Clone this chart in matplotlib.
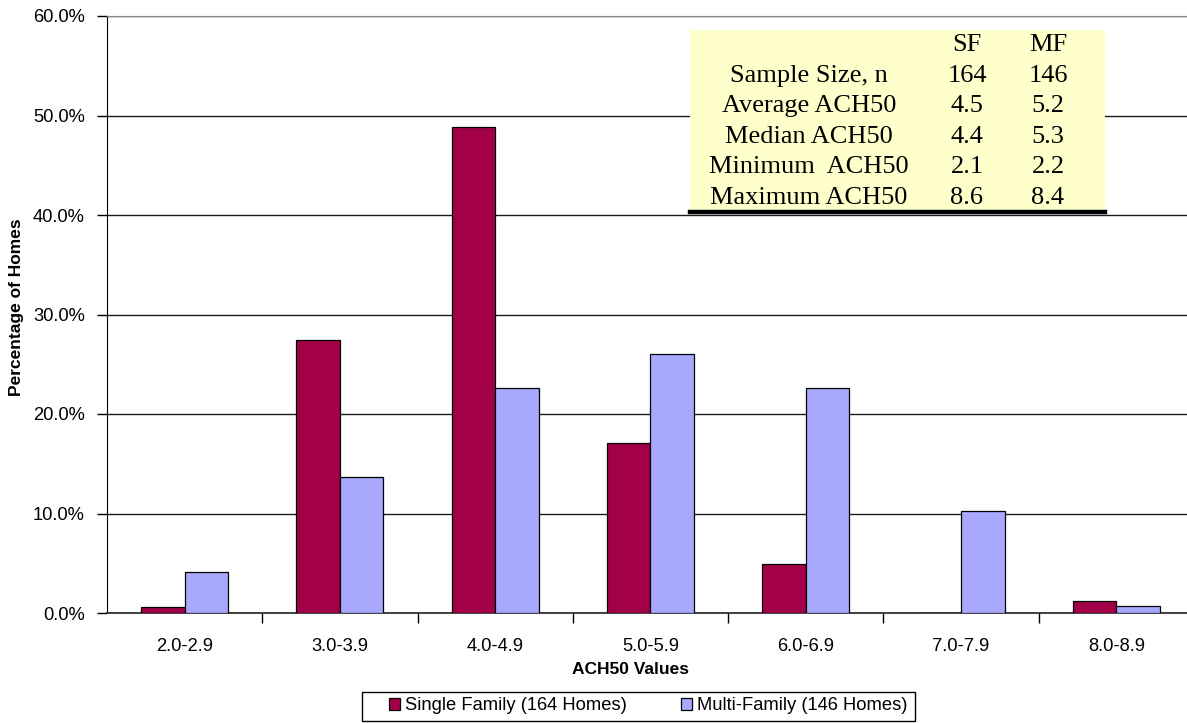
import matplotlib

matplotlib.use("Agg")
import matplotlib.pyplot as plt
import numpy as np
from matplotlib.patches import Rectangle
from matplotlib.ticker import FuncFormatter, FixedLocator

# ACH50 distribution, percentage of homes per bin
categories = ["2.0-2.9", "3.0-3.9", "4.0-4.9", "5.0-5.9", "6.0-6.9", "7.0-7.9", "8.0-8.9"]
single_family = [0.6, 27.4, 48.8, 17.1, 4.9, 0.0, 1.2]
multi_family = [4.1, 13.7, 22.6, 26.0, 22.6, 10.3, 0.7]
series_labels = ["Single Family (164 Homes)", "Multi-Family (146 Homes)"]

# summary table in the corner
table_header = ["", "SF", "MF"]
table_rows = ["Sample Size, n", "Average ACH50", "Median ACH50", "Minimum  ACH50", "Maximum ACH50"]
table_sf = ["164", "4.5", "4.4", "2.1", "8.6"]
table_mf = ["146", "5.2", "5.3", "2.2", "8.4"]

SF_COLOR = "#A3004A"
MF_COLOR = "#A8A8FF"
W, H = 1187, 723
TICK_FS = 13.2

plt.rcParams["font.family"] = ["Liberation Sans", "DejaVu Sans"]

fig = plt.figure(figsize=(W / 100, H / 100), dpi=100)
# plot area runs off the right edge of the picture, as in the source
ax = fig.add_axes([107 / W, (H - 613) / H, 1087 / W, 597 / H])

x = np.arange(len(categories))
bw = 0.28
ax.bar(x - bw / 2, single_family, bw, color=SF_COLOR, edgecolor="black", lw=0.9,
       label=series_labels[0], zorder=3)
ax.bar(x + bw / 2, multi_family, bw, color=MF_COLOR, edgecolor="black", lw=0.9,
       label=series_labels[1], zorder=3)

ax.set_xlim(-0.5, len(categories) - 0.5)
ax.set_ylim(0, 60)
ax.set_yticks(np.arange(0, 61, 10))
ax.yaxis.set_major_formatter(FuncFormatter(lambda v, _: f"{v:.1f}%"))
ax.yaxis.grid(True, color="#1a1a1a", lw=1.0)
ax.set_axisbelow(True)

# category boundary ticks (unlabelled), labels centred on the bins
ax.xaxis.set_major_locator(FixedLocator(x[:-1] + 0.5))
ax.xaxis.set_major_formatter(FuncFormatter(lambda v, _: ""))
ax.xaxis.set_minor_locator(FixedLocator(x))
ax.set_xticklabels(categories, minor=True)
ax.tick_params(axis="x", which="major", length=7, width=1, direction="out")
ax.tick_params(axis="x", which="minor", length=0, pad=18, labelsize=TICK_FS)
ax.tick_params(axis="y", length=7, width=1, direction="out", pad=9, labelsize=TICK_FS)

ax.spines["right"].set_visible(False)
ax.spines["top"].set_color("#8a8a8a")
ax.spines["left"].set_color("black")
ax.spines["bottom"].set_color("#333333")
ax.spines["bottom"].set_linewidth(1.3)

fig.text(17 / W, 1 - 307 / H, "Percentage of Homes", rotation=90, ha="center",
         va="center", fontsize=12.5, fontweight="bold")
fig.text(630 / W, 1 - 670 / H, "ACH50 Values", ha="center", va="center",
         fontsize=12.5, fontweight="bold")

# legend: Excel-style box with a wide left margin, drawn separately from the entries
fig.add_artist(Rectangle((362 / W, 1 - 721 / H), 553 / W, 29 / H, transform=fig.transFigure,
                         facecolor="white", edgecolor="black", lw=1.0))
fig.legend(loc="center left", bbox_to_anchor=(389 / W, 1 - 706 / H), ncol=2,
           fontsize=TICK_FS, frameon=False, handlelength=0.6, handleheight=0.6,
           handletextpad=0.25, columnspacing=3.0, borderpad=0, borderaxespad=0)

# yellow summary table
tx0, ty0, tx1, ty1 = 690, 30, 1105, 213
tab = fig.add_axes([tx0 / W, (H - ty1) / H, (tx1 - tx0) / W, (ty1 - ty0) / H])
tab.set_xlim(tx0, tx1)
tab.set_ylim(ty1, ty0)
tab.set_facecolor("#FFFFCC")
tab.set_xticks([])
tab.set_yticks([])
for s in tab.spines.values():
    s.set_visible(False)
tab.add_line(plt.Line2D([tx0, tx1], [ty1 - 1, ty1 - 1], color="black", lw=3.2,
                        clip_on=False))

col_x = [809, 967, 1048]
row_y = [45, 76, 106, 137, 167, 198]
serif = ["Liberation Serif", "DejaVu Serif"]
for cx, txt in zip(col_x, table_header):
    tab.text(cx, row_y[0], txt, ha="center", va="center", fontsize=19, family=serif)
for ry, lab, a, b in zip(row_y[1:], table_rows, table_sf, table_mf):
    tab.text(col_x[0], ry, lab, ha="center", va="center", fontsize=19, family=serif)
    tab.text(col_x[1], ry, a, ha="center", va="center", fontsize=19, family=serif)
    tab.text(col_x[2], ry, b, ha="center", va="center", fontsize=19, family=serif)

fig.savefig("out.png", dpi=100)
